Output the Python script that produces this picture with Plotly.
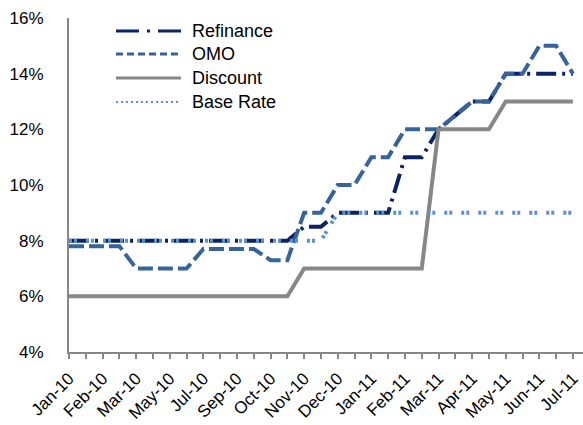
import plotly.graph_objects as go

# Observation index (31 fixing dates), labelled every second date
periods = list(range(31))
period_labels = [
    "Jan-10", "", "Feb-10", "", "Mar-10", "", "May-10", "", "Jul-10", "",
    "Sep-10", "", "Oct-10", "", "Nov-10", "", "Dec-10", "", "Jan-11", "",
    "Feb-11", "", "Mar-11", "", "Apr-11", "", "May-11", "", "Jun-11", "",
    "Jul-11",
]

# Policy rates, %
refinance = [8, 8, 8, 8, 8, 8, 8, 8, 8, 8, 8, 8, 8, 8, 8.5, 8.5, 9, 9, 9, 9,
             11, 11, 12, 12.5, 13, 13, 14, 14, 14, 14, 14]
omo = [7.8, 7.8, 7.8, 7.8, 7, 7, 7, 7, 7.7, 7.7, 7.7, 7.7, 7.3, 7.3, 9, 9,
       10, 10, 11, 11, 12, 12, 12, 12.5, 13, 13, 14, 14, 15, 15, 14]
discount = [6, 6, 6, 6, 6, 6, 6, 6, 6, 6, 6, 6, 6, 6, 7, 7, 7, 7, 7, 7, 7, 7,
            12, 12, 12, 12, 13, 13, 13, 13, 13]
base_rate = [8] * 16 + [9] * 15

y_ticks = [4, 6, 8, 10, 12, 14, 16]

series = [
    ("Refinance", refinance, dict(color="#0B2461", width=4, dash="20px,6px,3px,6px")),
    ("OMO", omo, dict(color="#36639A", width=4, dash="15px,5px")),
    ("Discount", discount, dict(color="#878787", width=4, dash="solid")),
    ("Base Rate", base_rate, dict(color="#5A90D6", width=4, dash="3px,2px,3px,9px")),
]
legend_dash = {
    "Refinance": "23px,8px,3px,8px",
    "OMO": "7px,4px",
    "Discount": "solid",
    "Base Rate": "2px,3px",
}
legend_width = {"Refinance": 3, "OMO": 3, "Discount": 3, "Base Rate": 2}

FONT = "Liberation Sans, Arial, sans-serif"
AXIS_GREY = "#878787"

W, H = 583, 425
ML, MR, MT, MB = 69, 0, 18, 73
plot_w, plot_h = W - ML - MR, H - MT - MB

fig = go.Figure()
for name, values, line in series:
    fig.add_trace(go.Scatter(
        x=periods, y=values, name=name, mode="lines",
        line=line, showlegend=False, hoverinfo="x+y+name",
    ))

# Legend block drawn in the upper-left corner of the plot
def px_to_paper_x(px):
    return (px - ML) / plot_w

def px_to_paper_y(py):
    return (H - MB - py) / plot_h

row_y = [31, 54, 78, 102]
for (name, _, line), py in zip(series, row_y):
    fig.add_shape(
        type="line", xref="paper", yref="paper",
        x0=px_to_paper_x(116), x1=px_to_paper_x(181),
        y0=px_to_paper_y(py), y1=px_to_paper_y(py),
        line=dict(color=line["color"], width=legend_width[name], dash=legend_dash[name]),
    )
    fig.add_annotation(
        x=px_to_paper_x(190), y=px_to_paper_y(py), xref="paper", yref="paper",
        text=name, showarrow=False, xanchor="left", yanchor="middle",
        font=dict(family=FONT, size=18, color="#000000"),
    )

fig.update_layout(
    width=W, height=H,
    margin=dict(l=ML, r=MR, t=MT, b=MB, pad=0, autoexpand=False),
    paper_bgcolor="white", plot_bgcolor="white",
    font=dict(family=FONT, size=17, color="#000000"),
    showlegend=False,
)
fig.update_xaxes(
    range=[0, 30.6], tickmode="array", tickvals=periods, ticktext=period_labels,
    tickangle=-45, ticks="outside", ticklen=5, tickwidth=1.5, tickcolor=AXIS_GREY,
    showline=True, linecolor=AXIS_GREY, linewidth=2,
    showgrid=False, zeroline=False, ticklabelstandoff=3,
    ticklabeloverflow="allow", automargin=False,
    tickfont=dict(family=FONT, size=17, color="#000000"),
)
fig.update_yaxes(
    range=[4, 16], tickmode="array", tickvals=y_ticks,
    ticktext=[f"{v}%" for v in y_ticks], ticks="",
    showline=True, linecolor=AXIS_GREY, linewidth=2,
    showgrid=False, zeroline=False, ticklabelstandoff=20, automargin=False,
    tickfont=dict(family=FONT, size=17, color="#000000"),
)

fig.write_html("out.html")
